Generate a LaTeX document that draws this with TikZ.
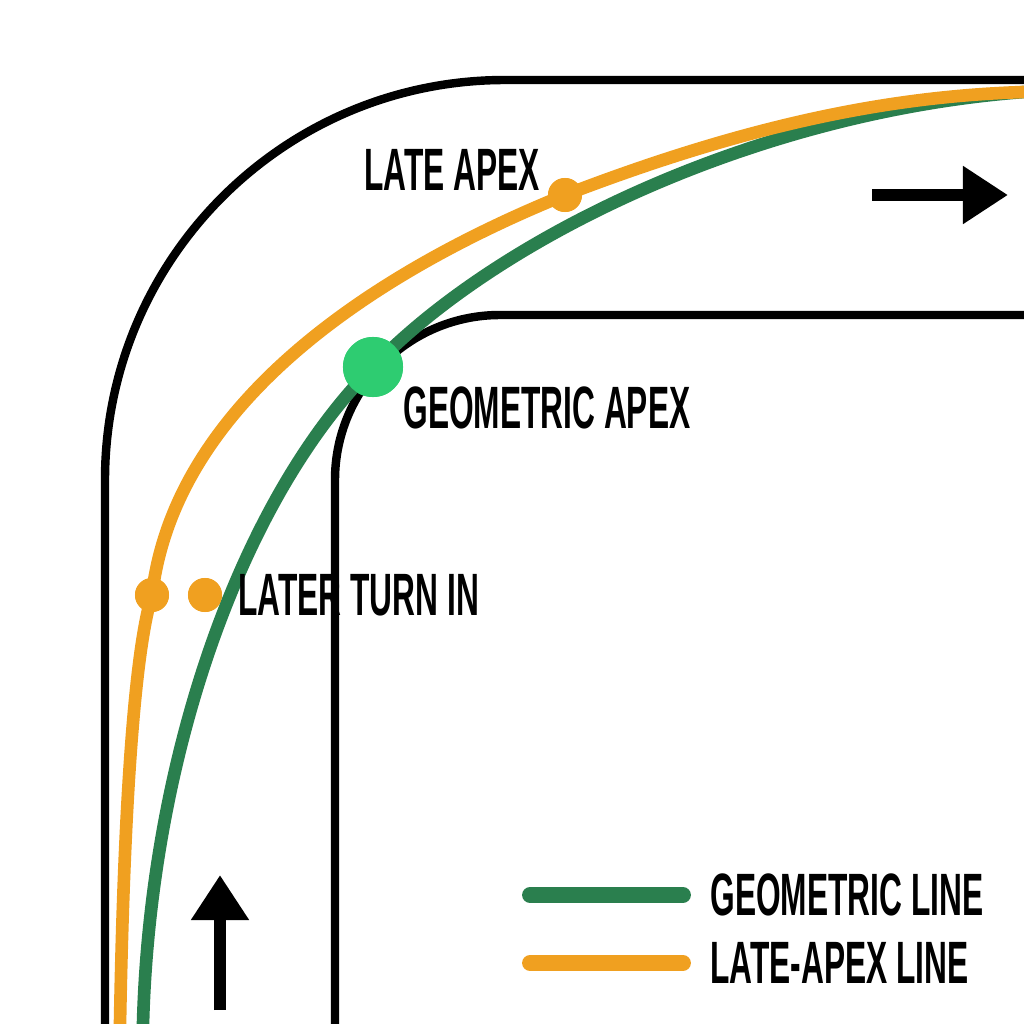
\documentclass[tikz,border=0pt]{standalone}
\usepackage{fontspec}
\setmainfont{Liberation Sans}
\usetikzlibrary{arrows.meta}
\definecolor{geo}{HTML}{2A7F4E}
\definecolor{late}{HTML}{F0A020}
\definecolor{apexgreen}{HTML}{2ECC71}
\begin{document}
\begin{tikzpicture}[x=0.01cm,y=-0.01cm,
    track/.style={line width=2.4pt},
    racing/.style={line width=3.6pt},
    dot/.style={circle,fill=late,inner sep=0pt,minimum size=0.34cm},
    apex/.style={circle,fill=apexgreen,inner sep=0pt,minimum size=0.6cm},
    label/.style={font=\bfseries\fontsize{17}{17}\selectfont,xscale=0.53,inner sep=0pt},
    dir/.style={line width=3.6pt,-{Triangle[length=0.45cm,width=0.55cm]}}]

    \useasboundingbox (0,0) rectangle (1024,1024);

    % Track edges
    \draw[track] (105,1024) -- (105,480) arc[start angle=180,end angle=270,radius=400] -- (1024,80);
    \draw[track] (335,1024) -- (335,480) arc[start angle=180,end angle=270,radius=165] -- (1024,315);

    % Racing lines
    \coordinate (gs) at (143,1024);
    \coordinate (ge) at (1024,92);
    \coordinate (ls) at (120,1024);
    \node[apex] (GA) at (373,367) {};
    \node[dot] (LA) at (565,195) {};
    \node[dot] (LT) at (152,595) {};
    \node[dot] (GT) at (205,595) {};
    \draw[racing,geo] (gs) .. controls (150,760) and (240,500) .. (GA.center)
        .. controls (500,235) and (760,112) .. (ge);
    \draw[racing,late] (ls) .. controls (124,800) and (135,650) .. (LT.center)
        .. controls (175,400) and (380,270) .. (LA.center)
        .. controls (760,120) and (900,96) .. (ge);
    \node[dot] at (LA) {};
    \node[dot] at (LT) {};
    \node[dot] at (GT) {};
    \node[apex] at (GA) {};

    % Labels
    \node[label,anchor=east] (late apex) at (540,170) {LATE APEX};
    \node[label,anchor=west] (geo apex) at (403,408) {GEOMETRIC APEX};
    \node[label,anchor=west] (turn in) at (238,595) {LATER TURN IN};

    % Direction arrows
    \coordinate (r1) at (872,195);
    \coordinate (r2) at (1008,195);
    \coordinate (u1) at (220,1010);
    \coordinate (u2) at (220,875);
    \draw[dir] (r1) -- (r2);
    \draw[dir] (u1) -- (u2);

    % Legend
    \coordinate (g1) at (530,895);
    \coordinate (g2) at (683,895);
    \coordinate (o1) at (530,963);
    \coordinate (o2) at (683,963);
    \draw[geo,line width=4.5pt,line cap=round] (g1) -- (g2);
    \draw[late,line width=4.5pt,line cap=round] (o1) -- (o2);
    \node[label,anchor=west] (geo key) at (710,895) {GEOMETRIC LINE};
    \node[label,anchor=west] (late key) at (710,963) {LATE-APEX LINE};

\end{tikzpicture}
\end{document}
